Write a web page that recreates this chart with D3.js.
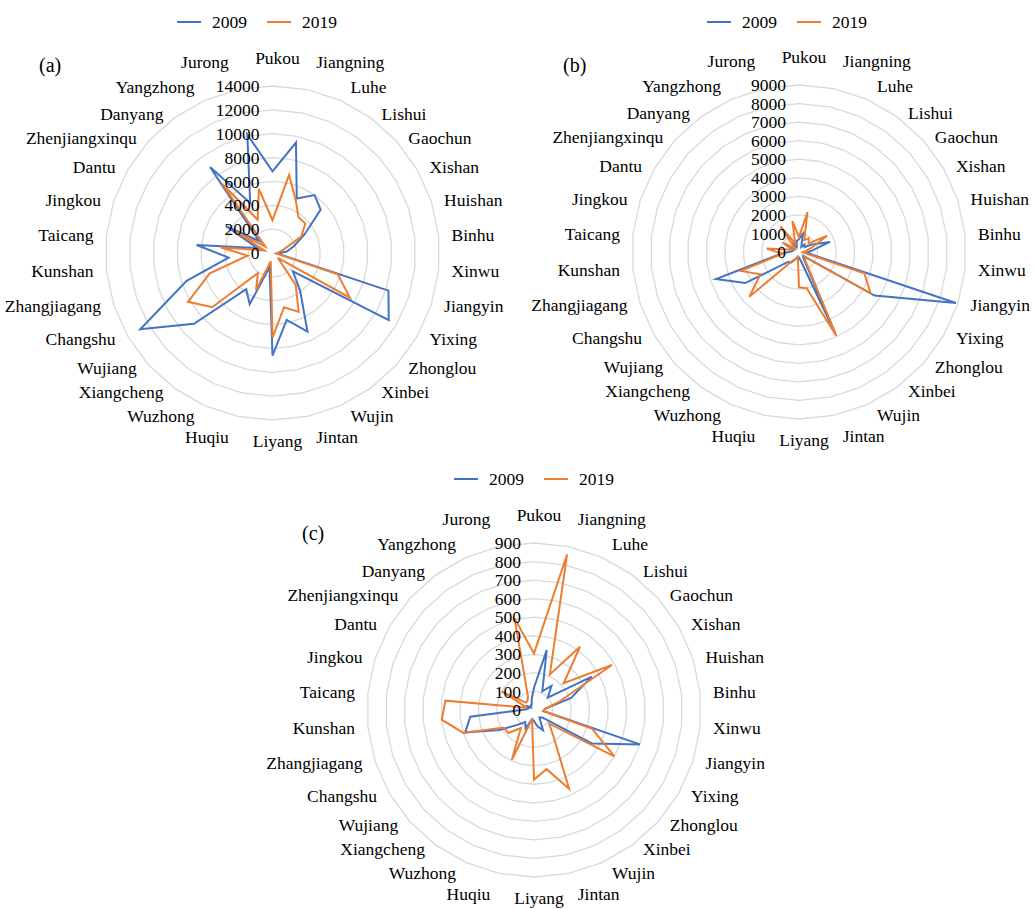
<!DOCTYPE html>
<html><head><meta charset="utf-8">
<script src="https://cdn.jsdelivr.net/npm/d3@7"></script>
<style>
body{margin:0;background:#fff;}
text{font-family:"Liberation Serif","Times New Roman",serif;fill:#000;}
</style></head>
<body>
<svg id="chart" width="1035" height="909"></svg>
<script>
const categories = ["Pukou","Jiangning","Luhe","Lishui","Gaochun","Xishan","Huishan","Binhu","Xinwu","Jiangyin","Yixing","Zhonglou","Xinbei","Wujin","Jintan","Liyang","Huqiu","Wuzhong","Xiangcheng","Wujiang","Changshu","Zhangjiagang","Kunshan","Taicang","Jingkou","Dantu","Zhenjiangxinqu","Danyang","Yangzhong","Jurong"];
const seriesNames = ["2009","2019"];

// panel (a)
const a2009 = [6840,9470,5000,6000,5430,3100,1900,1200,400,10220,11250,2300,3950,7210,5730,8600,1200,4700,3750,8860,12800,7570,3700,6400,1300,4500,1500,8900,4600,10160];
const a2019 = [2750,6700,4800,3700,3700,2800,1000,500,300,5750,7500,600,3300,5400,4650,7100,700,3400,2080,6800,8180,5530,2100,4350,700,3500,800,7150,3050,5500];
const aTicks = [0,2000,4000,6000,8000,10000,12000,14000];

// panel (b)
const b2009 = [700,1000,300,500,400,800,1750,700,400,8900,4700,300,400,4800,500,300,250,400,700,800,3350,4700,1000,400,300,500,300,500,300,600];
const b2019 = [800,2200,700,900,700,1750,700,300,200,3700,4450,400,600,4950,2000,1900,300,400,550,3600,2400,3300,900,1750,400,1000,300,1700,500,1700];
const bTicks = [0,1000,2000,3000,4000,5000,6000,7000,8000,9000];

// panel (c)
const c2009 = [120,330,110,160,100,360,210,60,50,600,360,60,50,120,90,60,50,110,80,120,215,390,345,40,30,40,20,30,30,60];
const c2019 = [305,857,210,422,215,485,140,60,50,330,500,110,180,465,326,375,50,295,120,185,190,400,500,480,40,200,60,60,80,506];
const cTicks = [0,100,200,300,400,500,600,700,800,900];

const colors = ["#4472C4","#ED7D31"];
const svg = d3.select("#chart");
svg.append("rect").attr("width",1035).attr("height",909).attr("fill","#fff");

const R = 167;
const N = categories.length;
const FS = 17.5;
const angle = d3.scaleLinear().domain([0,N]).range([0,2*Math.PI]);

function panel(opt){
  const {cx, cy, ticks, series, tag, tagPos, legendX, legendY} = opt;
  const g = svg.append("g").attr("transform",`translate(${cx},${cy})`);
  const r = d3.scaleLinear().domain([0, d3.max(ticks)]).range([0,R]);
  const idx = d3.range(N);
  // grid rings (polygons)
  const ringLine = d3.lineRadial().angle(i=>angle(i)).curve(d3.curveLinearClosed);
  ticks.filter(t=>t>0).forEach(t=>{
    g.append("path").attr("d", ringLine.radius(()=>r(t))(idx))
      .attr("fill","none").attr("stroke","#d9d9d9").attr("stroke-width",1.3);
  });
  // series
  series.forEach((vals,si)=>{
    const line = d3.lineRadial().angle((d,i)=>angle(i)).radius(d=>r(d)).curve(d3.curveLinearClosed);
    g.append("path").attr("d", line(vals)).attr("fill","none")
      .attr("stroke",colors[si]).attr("stroke-width",2).attr("stroke-linejoin","miter");
  });
  // tick labels
  g.selectAll("text.tick").data(ticks).enter().append("text")
    .attr("x",-13).attr("y",d=>-r(d)).attr("dy","0.35em")
    .attr("text-anchor","end").attr("font-size",FS).text(d=>d);
  // category labels
  const D = R + 5;
  categories.forEach((c,i)=>{
    const a = angle(i), s = Math.sin(a), co = Math.cos(a);
    let x, anchor;
    if (Math.abs(s) < 0.05){ x = 5; anchor = "middle"; }
    else { x = D*s + (s>0?8:-8); anchor = s>0?"start":"end"; }
    const f = Math.max(0, Math.min(1, (Math.abs(co)-0.88)/0.09));
    const extra = f * (co>0 ? 23 : 16);
    const y = -D*co - Math.sign(co)*extra;
    g.append("text").attr("x",x).attr("y",y).attr("dy","0.35em")
      .attr("text-anchor",anchor).attr("font-size",FS).text(c);
  });
  // panel tag
  svg.append("text").attr("x",tagPos[0]).attr("y",tagPos[1]).attr("font-size",20).text(tag);
  // legend
  const lg = svg.append("g").attr("transform",`translate(${legendX},${legendY})`);
  seriesNames.forEach((n,si)=>{
    const ox = si*90;
    lg.append("line").attr("x1",ox).attr("x2",ox+24).attr("y1",0).attr("y2",0)
      .attr("stroke",colors[si]).attr("stroke-width",2);
    lg.append("text").attr("x",ox+35).attr("y",0).attr("dy","0.35em").attr("font-size",FS).text(n);
  });
}

panel({cx:272.5, cy:253, ticks:aTicks, series:[a2009,a2019], tag:"(a)", tagPos:[39,72], legendX:177, legendY:22});
panel({cx:799, cy:252, ticks:bTicks, series:[b2009,b2019], tag:"(b)", tagPos:[563,72], legendX:707, legendY:22});
panel({cx:534, cy:710, ticks:cTicks, series:[c2009,c2019], tag:"(c)", tagPos:[302,540], legendX:454, legendY:479});
</script>
</body></html>
